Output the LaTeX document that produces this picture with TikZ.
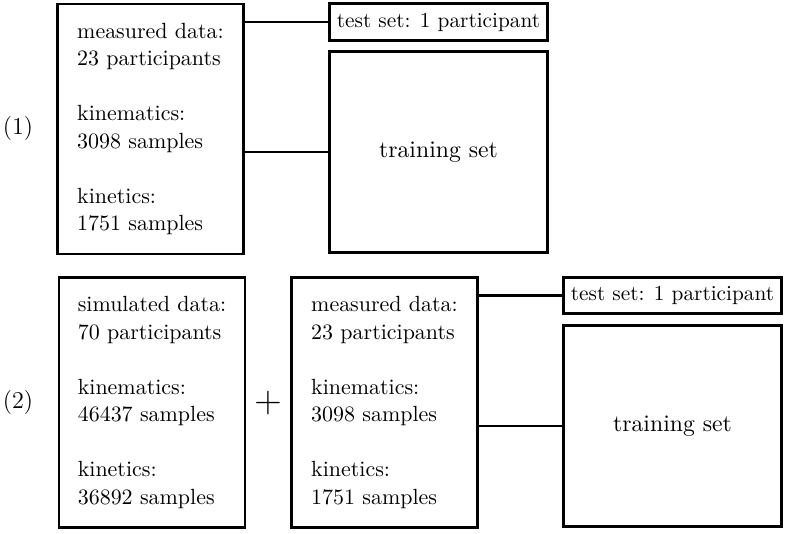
\documentclass[tikz,border=0pt]{standalone}
\usepackage{amsmath}
\usetikzlibrary{positioning}

\tikzset{
  databox/.style={draw, line width=1.3pt, align=left, minimum width=2.976cm,
    minimum height=4cm, font=\fontsize{10}{12.5}\selectfont},
  testbox/.style={draw, line width=1.3pt, minimum width=3.5cm, minimum height=0.58cm,
    font=\fontsize{9.7}{11.5}\selectfont},
  trainbox/.style={draw, line width=1.3pt, minimum width=3.5cm, minimum height=3.23cm,
    font=\fontsize{10.8}{13}\selectfont},
  rowlabel/.style={font=\fontsize{11}{13}\selectfont},
  link/.style={line width=1.3pt}
}

\begin{document}
\begin{tikzpicture}[x=0.016cm, y=0.016cm]
  \useasboundingbox (0, 0) rectangle (787, 533);

  % (1) measured data only
  \node[rowlabel] (lab1) at (18, 405) {(1)};
  \node[databox] (meas1) at (150.5, 404)
    {measured data:\\23 participants\\[\baselineskip]kinematics:\\3098 samples\\[\baselineskip]kinetics:\\1751 samples};
  \node[testbox]  (test1)  at (438.5, 511) {test set: 1 participant};
  \node[trainbox] (train1) at (438.5, 381) {training set};
  \draw[link] (meas1.east |- test1) -- (test1.west);
  \draw[link] (meas1.east |- train1) -- (train1.west);

  % (2) simulated + measured data
  \node[rowlabel] (lab2) at (18, 131) {(2)};
  \node[databox] (sim2) at (152, 130.5)
    {simulated data:\\70 participants\\[\baselineskip]kinematics:\\46437 samples\\[\baselineskip]kinetics:\\36892 samples};
  \node (plus) at (268, 130) {\fontsize{18.5}{22}\selectfont $+$};
  \node[databox] (meas2) at (384.5, 130.5)
    {measured data:\\23 participants\\[\baselineskip]kinematics:\\3098 samples\\[\baselineskip]kinetics:\\1751 samples};
  \node[testbox]  (test2)  at (672.5, 237.5) {test set: 1 participant};
  \node[trainbox] (train2) at (672.5, 107) {training set};
  \draw[link] (meas2.east |- test2) -- (test2.west);
  \draw[link] (meas2.east |- train2) -- (train2.west);
\end{tikzpicture}
\end{document}
